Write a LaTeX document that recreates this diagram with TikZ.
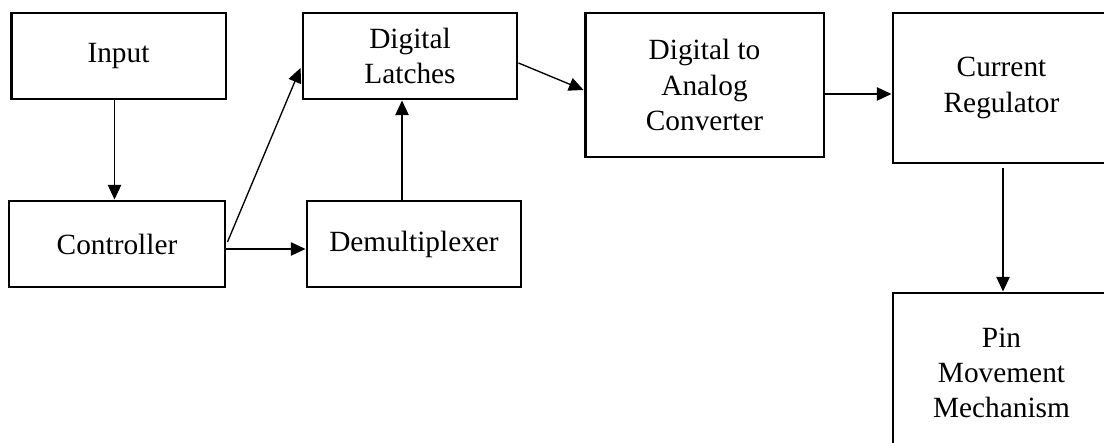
\documentclass[tikz,border=0pt]{standalone}
\usepackage{fontspec}
\setmainfont{Liberation Serif}
\usetikzlibrary{arrows.meta,calc}

\begin{document}
\begin{tikzpicture}[x=.375pt,y=-.375pt,
  blk/.style={draw,line width=1.1pt,inner sep=0pt,align=center,
    font=\fontsize{11}{13.2}\selectfont},
  arr/.style={-{Triangle[length=5.5pt,width=5pt]},line width=.5pt}]
\useasboundingbox (0,0) rectangle (1104,443);
\node[blk,minimum width=80.6pt,minimum height=32.25pt] (input) at (118.5,56) {Input};
\node[blk,minimum width=81pt,minimum height=32.25pt] (controller) at (117,244) {Controller};
\node[blk,minimum width=80.25pt,minimum height=32.25pt] (latches) at (410,56) {Digital\\Latches};
\node[blk,minimum width=80.25pt,minimum height=32.25pt] (demux) at (414,244) {Demultiplexer};
\node[blk,minimum width=89.6pt,minimum height=54pt] (dac) at (704.5,85) {Digital to\\Analog\\Converter};
\node[blk,minimum width=81.4pt,minimum height=56.25pt] (regulator) at (1001.5,88) {Current\\Regulator};
\node[blk,minimum width=81.4pt,minimum height=60pt] (pin) at (1001.5,373) {Pin\\Movement\\Mechanism};
\coordinate (in-out) at ($(input.south)+(-4,0)$);
\coordinate (ctl-out) at ($(controller.east)+(0,5)$);
\coordinate (dmx-out) at ($(demux.north)+(-12,0)$);
\coordinate (dac-out) at ($(dac.east)+(0,9)$);
\coordinate (reg-out) at ($(regulator.south)+(1.5,4)$);
\draw[arr] (in-out) -- (in-out |- controller.north);
\draw[arr] ($(controller.east)+(1,-2)$) -- ($(latches.west)+(-1,12)$);
\draw[arr] (ctl-out) -- (ctl-out -| demux.west);
\draw[arr] (dmx-out) -- (dmx-out |- latches.south);
\draw[arr] ($(latches.east)+(0,7)$) -- ($(dac.west)+(0,5)$);
\draw[arr] (dac-out) -- (dac-out -| regulator.west);
\draw[arr] (reg-out) -- (reg-out |- pin.north);
\end{tikzpicture}
\end{document}
